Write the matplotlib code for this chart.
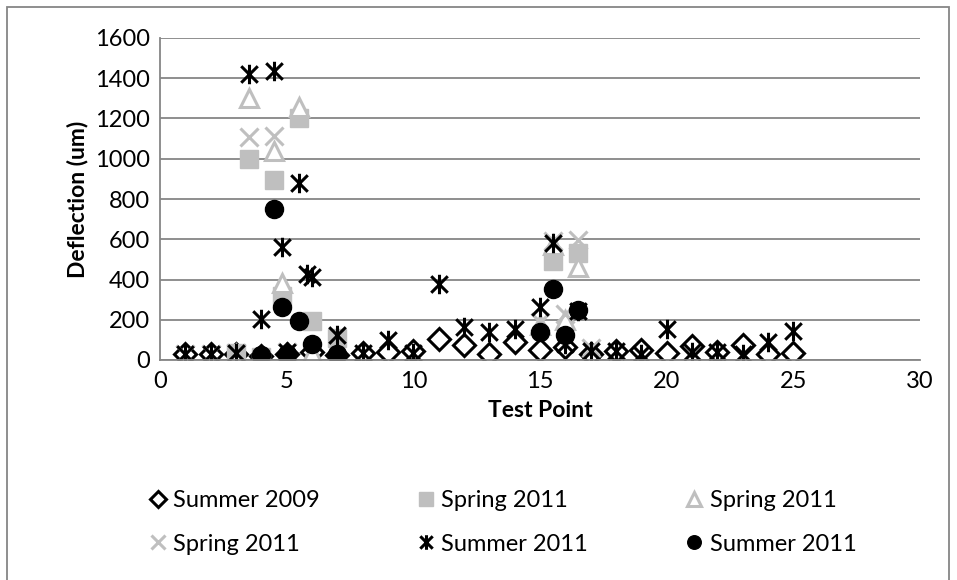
import numpy as np
import matplotlib.pyplot as plt
from matplotlib.path import Path
from matplotlib.patches import Rectangle

plt.rcParams['font.family'] = ['Lato', 'DejaVu Sans']

# Summer 2009 (open diamonds)
x_su09 = [1, 2, 3, 4, 5, 6, 7, 8, 9, 10, 11, 12, 13, 14, 15, 16, 17, 18, 19, 20, 21, 22, 23, 24, 25]
y_su09 = [30, 30, 30, 20, 30, 40, 25, 35, 40, 45, 105, 75, 30, 90, 50, 65, 30, 45, 50, 35, 70, 40, 75, 30, 35]

# Spring 2011 (grey squares)
x_sp_sq = [3, 3.5, 4, 4.5, 4.8, 5.5, 6, 7, 15.5, 16.5]
y_sp_sq = [35, 1000, 15, 895, 320, 1200, 195, 110, 490, 530]

# Spring 2011 (grey open triangles)
x_sp_tri = [3, 3.5, 4, 4.5, 4.8, 5, 5.5, 6, 15, 15.5, 16, 16.5]
y_sp_tri = [30, 1300, 10, 1040, 385, 15, 1255, 35, 175, 570, 200, 460]

# Spring 2011 (grey crosses)
x_sp_x = [1, 2, 3, 3.5, 4.5, 5, 15, 15.5, 16, 16.5, 17]
y_sp_x = [30, 30, 35, 1110, 1115, 40, 190, 590, 230, 595, 60]

# Summer 2011 (black asterisks)
x_su11_a = [1, 2, 3, 3.5, 4, 4.5, 4.8, 5, 5.5, 5.8, 6, 7, 8, 9, 10, 11, 12, 13, 14, 15,
            15.5, 16, 16.5, 17, 18, 19, 20, 21, 22, 23, 24, 25]
y_su11_a = [30, 30, 35, 1420, 205, 1435, 560, 40, 880, 425, 410, 125, 35, 100, 35, 380, 165, 140, 155, 265,
            580, 80, 245, 45, 45, 30, 155, 40, 40, 30, 90, 145]

# Summer 2011 (black dots)
x_su11_o = [4, 4.5, 4.8, 5, 5.5, 6, 7, 15, 15.5, 16, 16.5]
y_su11_o = [25, 750, 265, 30, 195, 80, 30, 140, 355, 125, 250]

grey = '#BFBFBF'
ast = Path([(0, -1), (0, 1), (-0.85, -0.85), (0.85, 0.85), (-0.85, 0.85), (0.85, -0.85)],
           [Path.MOVETO, Path.LINETO, Path.MOVETO, Path.LINETO, Path.MOVETO, Path.LINETO])

fig = plt.figure(figsize=(9.57, 5.8), dpi=100)
ax = fig.add_axes([160 / 957, 1 - 360 / 580, 760 / 957, 322 / 580])

h1, = ax.plot(x_su09, y_su09, ls='none', marker='D', ms=11.5, mfc='white', mec='black', mew=2.2,
              label='Summer 2009')
h2, = ax.plot(x_sp_sq, y_sp_sq, ls='none', marker='s', ms=12.5, mfc=grey, mec=grey, label='Spring 2011')
h3, = ax.plot(x_sp_tri, y_sp_tri, ls='none', marker='^', ms=13, mfc='white', mec=grey, mew=2.2,
              label='Spring 2011')
h4, = ax.plot(x_sp_x, y_sp_x, ls='none', marker='x', ms=13, mec=grey, mew=2.2, label='Spring 2011')
h5, = ax.plot(x_su11_a, y_su11_a, ls='none', marker=ast, ms=14, mec='black', mew=2.2,
              label='Summer 2011')
h6, = ax.plot(x_su11_o, y_su11_o, ls='none', marker='o', ms=13, mfc='black', mec='black',
              label='Summer 2011')

ax.set_xlim(0, 30)
ax.set_ylim(0, 1600)
ax.set_xticks(range(0, 31, 5))
ax.set_yticks(range(0, 1601, 200))
ax.grid(axis='y', color='#868686', lw=1.3)
ax.set_axisbelow(True)
for s in ['top', 'right']:
    ax.spines[s].set_visible(False)
for s in ['left', 'bottom']:
    ax.spines[s].set_color('#868686')
    ax.spines[s].set_linewidth(1.3)
ax.tick_params(axis='both', length=0, labelsize=17, pad=7)
ax.tick_params(axis='x', pad=8)
ax.set_xlabel('Test Point', fontsize=16.5, fontweight='bold', labelpad=6)
ax.set_ylabel('Deflection (um)', fontsize=16.5, fontweight='bold', labelpad=5)

fig.legend([h1, h4, h2, h5, h3, h6],
           ['Summer 2009', 'Spring 2011', 'Spring 2011', 'Summer 2011', 'Spring 2011', 'Summer 2011'],
           ncol=3, loc='upper left', bbox_to_anchor=(128 / 957, 1 - 469 / 580), frameon=False,
           fontsize=17, handlelength=0.7, handletextpad=0.3, columnspacing=4.15, labelspacing=0.95,
           markerscale=0.75)

fig.patches.append(Rectangle((7 / 957, -0.01), 942 / 957, 1 - 7 / 580 + 0.01, transform=fig.transFigure,
                             fill=False, ec='#868686', lw=1.3))

fig.savefig('out.png', dpi=100)
